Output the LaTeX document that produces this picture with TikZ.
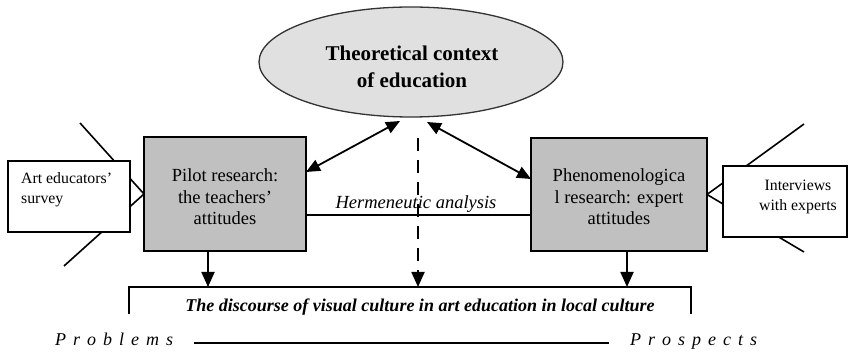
\documentclass[tikz,border=0pt]{standalone}
\usepackage{fontspec}
\setmainfont{Liberation Serif}
\usetikzlibrary{arrows.meta,shapes.geometric,calc}
\definecolor{boxgray}{HTML}{C0C0C0}
\definecolor{ellgray}{HTML}{E0E0E0}
\definecolor{ellline}{HTML}{333333}
\newcommand\lsp{\hspace{7pt}}
\begin{document}
\begin{tikzpicture}[x=1pt,y=-1pt,
  ell/.style={ellipse,draw=ellline,line width=1.3pt,fill=ellgray,inner sep=0pt,outer sep=0pt,minimum width=304pt,minimum height=110pt},
  graybox/.style={rectangle,draw,line width=2pt,fill=boxgray,inner sep=0pt,outer sep=0pt},
  whitebox/.style={rectangle,draw,line width=2pt,fill=white,inner sep=0pt,outer sep=0pt},
  maintext/.style={font=\fontsize{18.5}{21.5}\selectfont,align=center,inner sep=0pt},
  smalltext/.style={font=\fontsize{15.8}{20}\selectfont,inner sep=0pt},
  conn/.style={line width=1.6pt},
  arr/.style={line width=1.8pt,-{Triangle[length=15pt,width=13pt]}},
  dblarr/.style={line width=1.8pt,{Triangle[length=14pt,width=12pt]}-{Triangle[length=14pt,width=12pt]}},
  spaced/.style={font=\itshape\fontsize{18}{20}\selectfont,inner sep=0pt}
]
\useasboundingbox (0,0) rectangle (848,352);

% ellipse
\node[ell] (theo) at (411,62) {};
\node[font=\bfseries\fontsize{21}{27}\selectfont,align=center,inner sep=0pt] (theotext) at (412,67) {Theoretical context\\of education};

% coordinates for the crossing lines
\coordinate (cl1) at (80,123);
\coordinate (cl2) at (64,266);
\coordinate (cr1) at (804,124);
\coordinate (cr2) at (804,252);

% gray research boxes
\node[graybox,minimum width=162pt,minimum height=114pt] (pilot) at (225,194) {};
\node[maintext] (pilottext) at (225,197) {Pilot research:\\the teachers'\\attitudes};
\node[graybox,minimum width=176pt,minimum height=113pt] (phen) at (619,194.5) {};
\node[maintext] (phentext) at (619,197) {Phenomenologica\\l research: expert\\attitudes};

% crossing lines (drawn under the white boxes)
\draw[conn] (cl1) -- (pilot.west);
\draw[conn] (cl2) -- (pilot.west);
\draw[conn] (cr1) -- (phen.east);
\draw[conn] (cr2) -- (phen.east);

% white side boxes
\node[whitebox,minimum width=122pt,minimum height=71pt] (survey) at (69,196.5) {};
\node[smalltext,anchor=west,align=left] (surveytext) at (21,190) {Art educators'\\survey};
\node[whitebox,minimum width=124pt,minimum height=71pt] (interv) at (785,201.5) {};
\node[smalltext,align=center] (intervtext) at (798,197) {Interviews\\with experts};

% double arrows to the ellipse
\coordinate (e1) at (400,121);
\coordinate (e2) at (427,122);
\draw[dblarr] ([yshift=-35pt]pilot.north east) -- (e1);
\draw[dblarr] ([yshift=-41pt]phen.north west) -- (e2);

% hermeneutic analysis
\draw[line width=2pt] ([yshift=-21pt]pilot.east) -- ([yshift=-21pt]pilot.east -| phen.west);
\node[font=\itshape\fontsize{18.5}{21}\selectfont,inner sep=0pt] (herm) at (416,204) {Hermeneutic analysis};

% bottom open box
\node[minimum width=562pt,minimum height=27pt,inner sep=0pt,outer sep=0pt] (disc) at (410,300.5) {};
\draw[line width=2pt] (disc.south west) -- (disc.north west) -- (disc.north east) -- (disc.south east);
\node[font=\bfseries\itshape\fontsize{18}{20}\selectfont,inner sep=0pt] (disctext) at (420,307) {The discourse of visual culture in art education in local culture};

% arrows down
\coordinate (d0) at (418,138);
\draw[arr] ([xshift=-17pt]pilot.south) -- ([xshift=-17pt]pilot.south |- disc.north);
\draw[arr,dash pattern=on 13pt off 9pt] (d0) -- (d0 |- disc.north);
\draw[arr] ([xshift=8pt]phen.south) -- ([xshift=8pt]phen.south |- disc.north);

% problems / prospects
\node[spaced,anchor=base west] (prob) at (55,345) {P\lsp r\lsp o\lsp b\lsp l\lsp e\lsp m\lsp s};
\node[spaced,anchor=base west] (pros) at (630,345) {P\lsp r\lsp o\lsp s\lsp p\lsp e\lsp c\lsp t\lsp s};
\draw[line width=2pt] ([xshift=21pt,yshift=2pt]prob.base east) -- ([xshift=-21pt,yshift=2pt]pros.base west);
\end{tikzpicture}
\end{document}
